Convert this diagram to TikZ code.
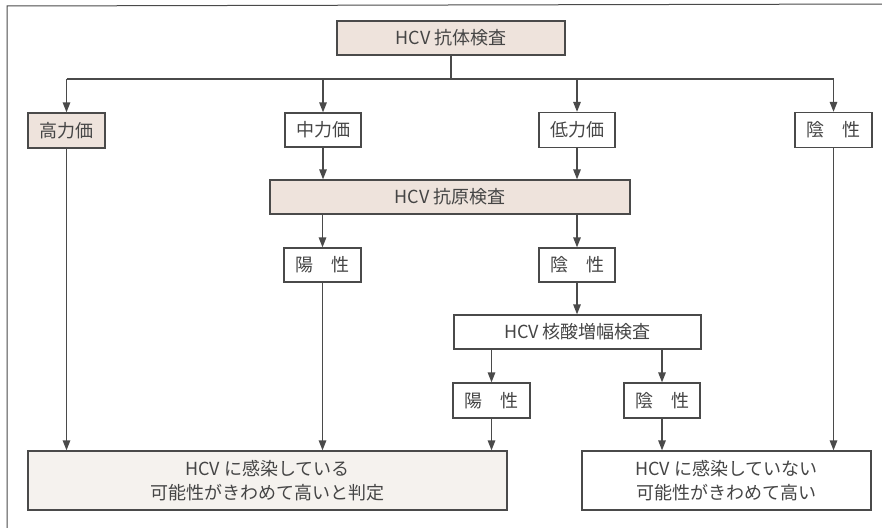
\documentclass[tikz,border=0pt]{standalone}
\usepackage{fontspec}
\setmainfont{Noto Sans CJK JP}
\usetikzlibrary{arrows.meta}
\definecolor{ln}{HTML}{4A4A4A}
\definecolor{txt}{HTML}{454545}
\definecolor{beige}{HTML}{EEE3DC}
\definecolor{pale}{HTML}{F5F2EE}
\tikzset{
  box/.style={draw=ln, line width=1.3pt, fill=white, inner sep=0pt, text=txt,
    font=\fontsize{18}{24}\selectfont, align=center},
  hbox/.style={box, fill=beige},
  arr/.style={draw=ln, line width=1.4pt, -{Triangle[length=10pt,width=7.5pt]}},
  ln/.style={draw=ln, line width=1.4pt}
}
\begin{document}
\begin{tikzpicture}[x=1pt,y=-1pt]
\useasboundingbox (0,0) rectangle (882,527);
\draw[ln, line width=1pt] (7,535) -- (7,6) -- (890,4);
\node[hbox, minimum width=228pt, minimum height=34pt] (top) at (451,38) {HCV 抗体検査};
\node[hbox, minimum width=77pt, minimum height=35pt] (high) at (66.5,130.5) {高力価};
\node[box, minimum width=76pt, minimum height=34pt] (mid) at (323,130) {中力価};
\node[box, minimum width=76pt, minimum height=35pt] (low) at (577,130) {低力価};
\node[box, minimum width=77pt, minimum height=35pt] (neg1) at (833.5,130) {陰　性};
\node[hbox, minimum width=360pt, minimum height=34pt] (ag) at (450,197) {HCV 抗原検査};
\node[box, minimum width=77pt, minimum height=34pt] (pos2) at (322.5,265) {陽　性};
\node[box, minimum width=76pt, minimum height=34pt] (neg2) at (577,265) {陰　性};
\node[box, minimum width=247pt, minimum height=34pt] (nat) at (577.5,332) {HCV 核酸増幅検査};
\node[box, minimum width=77pt, minimum height=35pt] (pos3) at (491.5,400.5) {陽　性};
\node[box, minimum width=76pt, minimum height=35pt] (neg3) at (662,400.5) {陰　性};
\node[box, fill=pale, minimum width=479pt, minimum height=59pt] (resL) at (267.5,480.5) {HCV に感染している\\可能性がきわめて高いと判定};
\node[box, minimum width=289pt, minimum height=59pt] (resR) at (726.5,480.5) {HCV に感染していない\\可能性がきわめて高い};
\coordinate (bus) at (0,79);
\draw[ln] (top.south) -- (top.south |- bus);
\draw[ln] (high.north |- bus) -- (neg1.north |- bus);
\draw[arr] (high.north |- bus) -- (high.north);
\draw[arr] (mid.north |- bus) -- (mid.north);
\draw[arr] (low.north |- bus) -- (low.north);
\draw[arr] (neg1.north |- bus) -- (neg1.north);
\draw[arr] (mid.south) -- (mid.south |- ag.north);
\draw[arr] (low.south) -- (low.south |- ag.north);
\draw[arr] (pos2.north |- ag.south) -- (pos2.north);
\draw[arr] (neg2.north |- ag.south) -- (neg2.north);
\draw[arr] (neg2.south) -- (neg2.south |- nat.north);
\draw[arr] (pos3.north |- nat.south) -- (pos3.north);
\draw[arr] (neg3.north |- nat.south) -- (neg3.north);
\draw[arr] (high.south) -- (high.south |- resL.north);
\draw[arr] (pos2.south) -- (pos2.south |- resL.north);
\draw[arr] (pos3.south) -- (pos3.south |- resL.north);
\draw[arr] (neg3.south) -- (neg3.south |- resR.north);
\draw[arr] (neg1.south) -- (neg1.south |- resR.north);
\end{tikzpicture}
\end{document}
